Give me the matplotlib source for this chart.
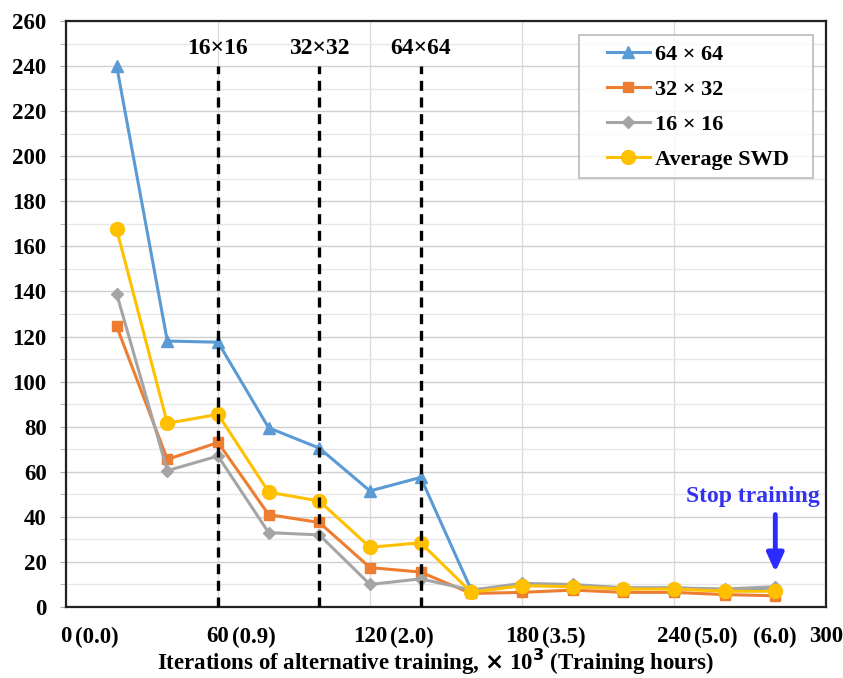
import matplotlib

matplotlib.use("Agg")
import matplotlib.pyplot as plt
from matplotlib.legend_handler import HandlerLine2D
from matplotlib.ticker import MultipleLocator

# data
iters = [20, 40, 60, 80, 100, 120, 140, 160, 180, 200, 220, 240, 260, 280]
swd_64 = [240, 118, 117.5, 79.5, 70.5, 51.5, 57.5, 7.5, 9.5, 9.5, 8.5, 8.5, 7.5, 8.5]
swd_32 = [124.5, 65.5, 73, 41, 37.5, 17.5, 15.5, 6, 6.5, 7.5, 6.5, 6.5, 5.5, 5]
swd_16 = [139, 60.5, 67, 33, 32, 10, 12.5, 7.5, 10.5, 10, 8.5, 8.5, 8, 9]
swd_avg = [167.5, 81.5, 85.5, 51, 47, 26.5, 28.5, 6.5, 9.5, 9, 8, 8, 7, 7]

tick_vals = [0, 60, 120, 180, 240, 300]
tick_hours = ["(0.0)", "(0.9)", "(2.0)", "(3.5)", "(5.0)", None]
stop_x, stop_hours = 280, "(6.0)"
res_x = [60, 100, 140]
res_names = ["16\u00d716", "32\u00d732", "64\u00d764"]

SERIF = "Liberation Serif"
plt.rcParams["font.family"] = SERIF
plt.rcParams["font.weight"] = "bold"
FS = 16.5

fig = plt.figure(figsize=(8.43, 6.78), dpi=100)
ax = fig.add_axes([0.0783, 0.1047, 0.9015, 0.8643])

ax.plot(iters, swd_64, color="#5B9BD5", lw=2.2, marker="^", ms=9, label="64 \u00d7 64", zorder=4)
ax.plot(iters, swd_32, color="#ED7D31", lw=2.2, marker="s", ms=7.5, label="32 \u00d7 32", zorder=4)
ax.plot(iters, swd_16, color="#A5A5A5", lw=2.2, marker="D", ms=6.5, label="16 \u00d7 16", zorder=4)
ax.plot(iters, swd_avg, color="#FFC000", lw=2.2, marker="o", ms=10,
        label="Average SWD\u2002\u2009", zorder=4)

for x, name in zip(res_x, res_names):
    ax.plot([x, x], [0, 240], color="black", lw=2.4, ls=(0, (3, 2)), zorder=5)
    ax.text(x, 248, name, ha="center", va="center", fontsize=17, fontweight="bold")

ax.set_xlim(0, 300)
ax.set_ylim(0, 260)
ax.yaxis.set_major_locator(MultipleLocator(20))
ax.yaxis.set_minor_locator(MultipleLocator(10))
ax.set_xticks(tick_vals)
ax.set_xticklabels([str(v) for v in tick_vals])
ax.tick_params(axis="x", length=0, pad=14, labelsize=FS)
ax.tick_params(axis="y", which="both", direction="out", length=4.5, color="#aaaaaa",
               labelsize=FS, pad=9.5)
for lab in ax.get_xticklabels() + ax.get_yticklabels():
    lab.set_fontweight("bold")

ax.grid(axis="y", which="major", color="#d0d0d0", lw=1.0, zorder=0)
ax.grid(axis="y", which="minor", color="#e8e8e8", lw=1.0, zorder=0)
ax.grid(axis="x", which="major", color="#dcdcdc", lw=1.0, zorder=0)
for s in ax.spines.values():
    s.set_color("#222222")
    s.set_linewidth(1.6)

# hours next to the iteration numbers
for v, h in zip(tick_vals, tick_hours):
    if h is None:
        continue
    half = len(str(v)) * FS / 4 + 2
    ax.annotate(h, xy=(v, 0), xycoords=("data", "axes fraction"),
                xytext=(half, -14), textcoords="offset points",
                ha="left", va="top", fontsize=FS, fontweight="bold")
ax.annotate(stop_hours, xy=(stop_x, 0), xycoords=("data", "axes fraction"),
            xytext=(0, -14), textcoords="offset points",
            ha="center", va="top", fontsize=FS, fontweight="bold")

fig.text(0.517, 0.024,
         r"Iterations of alternative training, $\times$ 10$^{\mathbf{3}}$ (Training hours)",
         ha="center", va="center", fontsize=16.5, fontweight="bold")

# stop training marker
ax.annotate("", xy=(stop_x, 15.5), xytext=(stop_x, 41),
            arrowprops=dict(arrowstyle="-|>,head_width=0.5,head_length=1.1",
                            color="#2B2BFF", lw=3.5, shrinkA=0, shrinkB=0))
ax.text(271, 49, "Stop training", ha="center", va="center",
        fontsize=17, fontweight="bold", color="#3333EE")

leg = ax.legend(loc="upper right", bbox_to_anchor=(0.983, 0.976), borderaxespad=0,
                fontsize=16, frameon=True, fancybox=False, edgecolor="#aaaaaa",
                handlelength=2.8, labelspacing=0.65, borderpad=0.4, handletextpad=0.2,
                handler_map={matplotlib.lines.Line2D: HandlerLine2D(xpad=0.85)})
leg.get_frame().set_linewidth(1.2)
for t in leg.get_texts():
    t.set_fontweight("bold")

fig.savefig("out.png", dpi=100)
